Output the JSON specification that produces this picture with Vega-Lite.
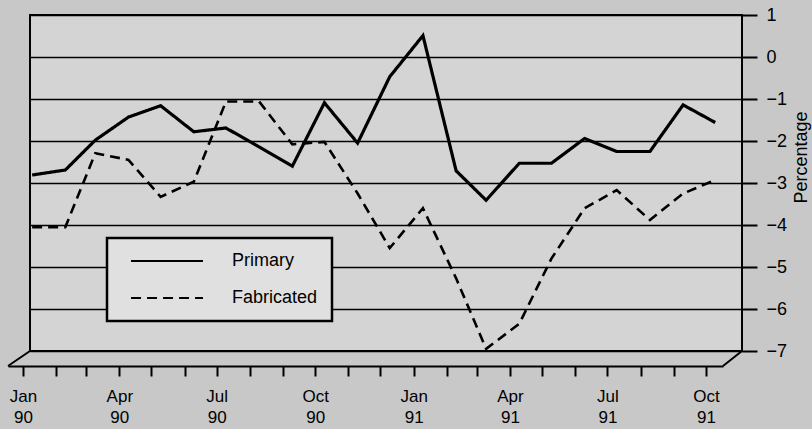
{
  "$schema": "https://vega.github.io/schema/vega-lite/v6.json",
  "width": 712,
  "height": 336,
  "autosize": {"type": "none"},
  "padding": {"left": 30, "top": 15, "right": 70, "bottom": 78},
  "background": "#c8c8c8",
  "config": {
    "view": {"fill": "#d4d4d4", "stroke": "black", "strokeWidth": 2},
    "font": "'Liberation Sans', Arial, sans-serif"
  },
  "datasets": {
    "series": [
      {"month": "1990-01-01", "series": "Primary", "value": -2.81},
      {"month": "1990-02-01", "series": "Primary", "value": -2.69},
      {"month": "1990-03-01", "series": "Primary", "value": -1.98},
      {"month": "1990-04-01", "series": "Primary", "value": -1.43},
      {"month": "1990-05-01", "series": "Primary", "value": -1.16},
      {"month": "1990-06-01", "series": "Primary", "value": -1.78},
      {"month": "1990-07-01", "series": "Primary", "value": -1.69},
      {"month": "1990-08-01", "series": "Primary", "value": -2.14},
      {"month": "1990-09-01", "series": "Primary", "value": -2.6},
      {"month": "1990-10-01", "series": "Primary", "value": -1.09},
      {"month": "1990-11-01", "series": "Primary", "value": -2.05},
      {"month": "1990-12-01", "series": "Primary", "value": -0.47},
      {"month": "1991-01-01", "series": "Primary", "value": 0.51},
      {"month": "1991-02-01", "series": "Primary", "value": -2.71},
      {"month": "1991-03-01", "series": "Primary", "value": -3.41},
      {"month": "1991-04-01", "series": "Primary", "value": -2.53},
      {"month": "1991-05-01", "series": "Primary", "value": -2.53},
      {"month": "1991-06-01", "series": "Primary", "value": -1.94},
      {"month": "1991-07-01", "series": "Primary", "value": -2.25},
      {"month": "1991-08-01", "series": "Primary", "value": -2.25},
      {"month": "1991-09-01", "series": "Primary", "value": -1.14},
      {"month": "1991-10-01", "series": "Primary", "value": -1.56},
      {"month": "1990-01-01", "series": "Fabricated", "value": -4.05},
      {"month": "1990-02-01", "series": "Fabricated", "value": -4.05},
      {"month": "1990-03-01", "series": "Fabricated", "value": -2.29},
      {"month": "1990-04-01", "series": "Fabricated", "value": -2.45},
      {"month": "1990-05-01", "series": "Fabricated", "value": -3.33},
      {"month": "1990-06-01", "series": "Fabricated", "value": -2.97},
      {"month": "1990-07-01", "series": "Fabricated", "value": -1.06},
      {"month": "1990-08-01", "series": "Fabricated", "value": -1.06},
      {"month": "1990-09-01", "series": "Fabricated", "value": -2.08},
      {"month": "1990-10-01", "series": "Fabricated", "value": -2.02},
      {"month": "1990-11-01", "series": "Fabricated", "value": -3.25},
      {"month": "1990-12-01", "series": "Fabricated", "value": -4.55},
      {"month": "1991-01-01", "series": "Fabricated", "value": -3.6},
      {"month": "1991-02-01", "series": "Fabricated", "value": -5.27},
      {"month": "1991-03-01", "series": "Fabricated", "value": -6.95},
      {"month": "1991-04-01", "series": "Fabricated", "value": -6.35},
      {"month": "1991-05-01", "series": "Fabricated", "value": -4.8},
      {"month": "1991-06-01", "series": "Fabricated", "value": -3.6},
      {"month": "1991-07-01", "series": "Fabricated", "value": -3.17},
      {"month": "1991-08-01", "series": "Fabricated", "value": -3.88},
      {"month": "1991-09-01", "series": "Fabricated", "value": -3.25},
      {"month": "1991-10-01", "series": "Fabricated", "value": -2.93}
    ]
  },
  "layer": [
    {
      "data": {"name": "series"},
      "encoding": {
        "x": {
          "field": "month",
          "type": "temporal",
          "scale": {
            "type": "utc",
            "domain": [
              {"year": 1989, "month": 12, "date": 30, "utc": true},
              {"year": 1991, "month": 10, "date": 26, "utc": true}
            ]
          },
          "axis": null
        },
        "y": {
          "field": "value",
          "type": "quantitative",
          "scale": {"domain": [-7, 1], "nice": false, "zero": false},
          "axis": {
            "orient": "right",
            "title": "Percentage",
            "values": [1, 0, -1, -2, -3, -4, -5, -6, -7],
            "grid": true,
            "gridColor": "black",
            "gridWidth": 1.6,
            "gridOpacity": 1,
            "domain": false,
            "tickColor": "black",
            "tickWidth": 2,
            "tickSize": 15,
            "labelPadding": 9,
            "labelFontSize": 18,
            "labelColor": "black",
            "labelAlign": "left",
            "labelBaseline": "middle",
            "titleFontSize": 18,
            "titleFontWeight": "normal",
            "titleColor": "black",
            "titleAngle": 270,
            "titleAlign": "center",
            "titleBaseline": "alphabetic",
            "titleX": 64,
            "titleY": 142
          }
        },
        "strokeDash": {
          "field": "series",
          "type": "nominal",
          "scale": {"domain": ["Primary", "Fabricated"], "range": [[1, 0], [10, 6]]},
          "legend": {
            "orient": "none",
            "legendX": 77,
            "legendY": 223,
            "title": null,
            "symbolType": "M-5,0H5",
            "symbolSize": 207,
            "symbolStrokeWidth": 2,
            "symbolStrokeColor": "black",
            "symbolOffset": 37,
            "labelOffset": 56,
            "labelFontSize": 18,
            "labelColor": "black",
            "padding": 14,
            "rowPadding": 19,
            "fillColor": "#e0e0e0",
            "strokeColor": "black",
            "encode": {"legend": {"update": {"strokeWidth": {"value": 2.5}}}}
          }
        }
      },
      "layer": [
        {
          "data": {"values": [{}]},
          "mark": {"type": "rule", "color": "black", "strokeWidth": 4.5},
          "encoding": {
            "x": null,
            "strokeDash": null,
            "y": {"datum": 0, "type": "quantitative"}
          }
        },
        {
          "transform": [{"filter": "datum.series === 'Primary'"}],
          "mark": {"type": "line", "color": "black", "strokeWidth": 3.2}
        },
        {
          "transform": [{"filter": "datum.series === 'Fabricated'"}],
          "mark": {"type": "line", "color": "black", "strokeWidth": 2.6}
        }
      ]
    },
    {
      "data": {"values": [{}]},
      "layer": [
        {
          "mark": {"type": "rule", "color": "black", "strokeWidth": 2},
          "encoding": {
            "x": {
              "datum": {"year": 1990, "month": 1, "date": 7, "hours": 13, "utc": true},
              "type": "temporal",
              "scale": {
                "type": "utc",
                "domain": [
                  {"year": 1989, "month": 12, "date": 18, "utc": true},
                  {"year": 1991, "month": 10, "date": 17, "utc": true}
                ],
                "range": [-22, 693]
              },
              "axis": {
                "orient": "bottom",
                "offset": 15,
                "title": null,
                "grid": false,
                "domain": true,
                "domainColor": "black",
                "domainWidth": 2,
                "tickColor": "black",
                "tickWidth": 2,
                "tickSize": 10,
                "tickCount": {"interval": "month", "step": 1},
                "labelExpr": "utcmonth(datum.value) % 3 == 0 ? [utcFormat(datum.value, '%b'), utcFormat(datum.value, '%y')] : ''",
                "labelOverlap": false,
                "labelFlush": false,
                "labelBound": false,
                "labelPadding": 12,
                "labelFontSize": 17,
                "labelLineHeight": 21,
                "labelColor": "black"
              }
            },
            "x2": {"datum": {"year": 1989, "month": 12, "date": 18, "utc": true}},
            "y": {"datum": -7, "type": "quantitative"},
            "y2": {"datum": -7.357}
          }
        },
        {
          "mark": {"type": "rule", "color": "black", "strokeWidth": 2},
          "encoding": {
            "x": {"datum": {"year": 1991, "month": 11, "date": 3, "hours": 17, "utc": true}, "type": "temporal"},
            "x2": {"datum": {"year": 1991, "month": 10, "date": 17, "utc": true}},
            "y": {"datum": -7, "type": "quantitative"},
            "y2": {"datum": -7.357}
          }
        }
      ]
    }
  ],
  "resolve": {"scale": {"x": "independent"}, "axis": {"x": "independent"}}
}
